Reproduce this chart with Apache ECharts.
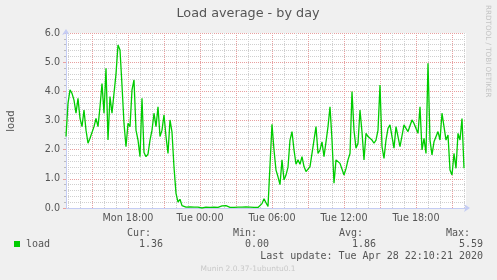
<!DOCTYPE html>
<html><head><meta charset="utf-8">
<script src="https://cdn.jsdelivr.net/npm/echarts@6/dist/echarts.min.js"></script>
<style>html,body{margin:0;padding:0;background:#f0f0f0}#c{width:497px;height:280px}</style>
</head><body><div id="c"></div>
<script>
const titleText = 'Load average - by day';
const seriesName = 'load';
const yAxisName = 'load';
const startHour = 12 + 50 / 60;   // Mon 12:50
const endHour = 46 + 10 / 60;     // Tue 22:10
const stepHours = 10 / 60;
const loadValues = [
  2.45, 3.59, 4.05, 3.93, 3.70, 3.25, 3.76, 3.07, 2.79, 3.36,
  2.67, 2.22, 2.39, 2.45, 2.79, 3.07, 2.79, 3.47, 4.27, 3.25,
  4.79, 2.33, 3.82, 3.25, 3.93, 4.60, 5.59, 5.42, 4.20, 2.90,
  2.10, 2.90, 2.79, 4.05, 4.39, 2.67, 2.33, 1.76, 3.76,
  1.90, 1.76, 1.85, 2.33, 2.67, 3.25, 2.79, 3.47, 2.45, 2.67,
  3.19, 2.45, 1.87, 3.02, 2.60, 1.40, 0.50, 0.20, 0.30, 0.08, 0.12,
  0.03, 0.02, 0.04, 0.02, 0.03, 0.09, 0.03, 0.02, 0.00, 0.02,
  0.03, 0.02, 0.02, 0.04, 0.03, 0.02, 0.02, 0.02, 0.07, 0.05,
  0.08, 0.03, 0.02, 0.03, 0.02, 0.02, 0.03, 0.02, 0.03, 0.06,
  0.04, 0.02, 0.03, 0.02, 0.02, 0.03, 0.02, 0.04, 0.15, 0.32,
  0.18, 0.05, 0.03,
  2.87, 1.99, 1.30, 1.07, 0.80, 1.65, 0.96, 1.13, 1.40, 2.33,
  2.62, 1.99, 1.50, 1.65, 1.50, 1.76, 1.42,
  1.25, 1.30, 1.42, 1.47, 2.33, 2.79, 1.87, 1.99, 2.27, 1.76,
  2.27, 2.79, 3.47, 2.33, 0.85, 1.65, 1.59, 1.53, 1.53, 1.13,
  1.35, 1.65, 1.87, 3.99, 2.67, 2.05, 2.22, 3.36, 2.60, 1.65,
  2.56, 2.45, 2.45, 2.33, 2.22, 2.33, 2.67, 4.22, 2.10, 1.70,
  2.33, 2.73, 2.85, 2.45, 2.05, 2.79, 2.45, 2.10, 2.05, 2.85,
  2.73, 2.62, 2.62, 3.02, 2.90, 2.96, 2.56, 3.47, 1.99, 2.39,
  1.87, 4.96, 2.33, 1.82, 2.27, 2.22, 2.62, 2.33, 3.25, 3.19,
  2.33, 2.50, 1.30, 1.13, 1.87, 1.36, 2.56, 2.33, 3.07, 1.36
];
const xTickHours = [18, 24, 30, 36, 42];
const xTickLabels = ['Mon 18:00', 'Tue 00:00', 'Tue 06:00', 'Tue 12:00', 'Tue 18:00'];
const minorGridHours = [13,14,16,17,19,20,22,23,25,26,28,29,31,32,34,35,37,38,40,41,43,44,46];
const majorGridHours = [15,18,21,24,27,30,33,36,39,42,45];
const yTickLabels = ['0.0', '1.0', '2.0', '3.0', '4.0', '5.0', '6.0'];
const statLabels = ['Cur:', 'Min:', 'Avg:', 'Max:'];
const statValues = ['1.36', '0.00', '1.86', '5.59'];
const lastUpdate = 'Last update: Tue Apr 28 22:10:21 2020';
const footerText = 'Munin 2.0.37-1ubuntu0.1';
const sideText = 'RRDTOOL / TOBI OETIKER';

const lineColor = '#00cc00';
const minorColor = '#cfcfcf';
const majorColor = '#e8a0a0';
const axisColor = '#c4ccf4';
const fontColor = '#555';
const mono = '10px "DejaVu Sans Mono"';

const chart = echarts.init(document.getElementById('c'), null, {renderer: 'canvas'});
const seriesData = loadValues.map((v, i) => [startHour + i * stepHours, v]);

const gridLeft = 66, gridTop = 33, gridW = 400, gridH = 175;
const statRight = [151, 257, 363, 470];
const valRight = [163, 269, 376, 483];

const graphics = [
  {type: 'text', x: 248, y: 14, style: {text: titleText, font: '12.8px "DejaVu Sans"', fill: fontColor, align: 'center', verticalAlign: 'middle'}},
  {type: 'text', x: 11, y: 121, rotation: Math.PI / 2, style: {text: yAxisName, font: '10px "DejaVu Sans"', fill: fontColor, align: 'center', verticalAlign: 'middle'}},
  {type: 'text', x: 488, y: 5, rotation: -Math.PI / 2, style: {text: sideText, font: '7.2px "DejaVu Sans"', fill: '#c4c4c4', align: 'left', verticalAlign: 'middle'}},
  {type: 'rect', shape: {x: 14, y: 241, width: 6, height: 6}, style: {fill: lineColor}},
  {type: 'text', x: 26, y: 244, style: {text: seriesName, font: mono, fill: fontColor, align: 'left', verticalAlign: 'middle'}},
  {type: 'text', x: 483, y: 256, style: {text: lastUpdate, font: mono, fill: fontColor, align: 'right', verticalAlign: 'middle'}},
  {type: 'text', x: 248, y: 269, style: {text: footerText, font: '7.5px "DejaVu Sans"', fill: '#c8c8c8', align: 'center', verticalAlign: 'middle'}}
];
statLabels.forEach((t, i) => graphics.push({type: 'text', x: statRight[i], y: 233, style: {text: t, font: mono, fill: fontColor, align: 'right', verticalAlign: 'middle'}}));
statValues.forEach((t, i) => graphics.push({type: 'text', x: valRight[i], y: 244, style: {text: t, font: mono, fill: fontColor, align: 'right', verticalAlign: 'middle'}}));

const gridLineSeries = (hours, color, z) => ({
  type: 'line', data: [], z: z, silent: true,
  markLine: {
    silent: true, symbol: 'none', animation: false, z: z,
    label: {show: false},
    lineStyle: {color: color, type: [1, 1], width: 1},
    data: hours.map(h => ({xAxis: h}))
  }
});

chart.setOption({
  backgroundColor: '#f0f0f0',
  animation: false,
  graphic: graphics,
  grid: {left: gridLeft, top: gridTop, width: gridW, height: gridH, show: true, backgroundColor: '#ffffff', borderWidth: 0},
  xAxis: {
    type: 'value', min: startHour, max: endHour,
    axisLine: {show: true, lineStyle: {color: axisColor, width: 1}, symbol: ['none', 'arrow'], symbolSize: [6, 6], symbolOffset: [0, 4]},
    axisTick: {show: false},
    splitLine: {show: false},
    axisLabel: {
      customValues: xTickHours,
      formatter: v => { const k = xTickHours.indexOf(Math.round(v)); return k >= 0 ? xTickLabels[k] : ''; },
      color: fontColor, fontFamily: 'DejaVu Sans', fontSize: 9.6, margin: 5
    }
  },
  yAxis: {
    type: 'value', min: 0, max: 6, interval: 1,
    axisLine: {show: true, lineStyle: {color: axisColor, width: 1}, symbol: ['none', 'arrow'], symbolSize: [6, 6], symbolOffset: [0, 4]},
    axisTick: {show: true, length: 3, lineStyle: {color: majorColor}},
    minorTick: {show: true, splitNumber: 5, length: 2, lineStyle: {color: '#bbbbbb'}},
    splitLine: {show: true, lineStyle: {color: majorColor, type: [1, 1], width: 1}},
    minorSplitLine: {show: true, lineStyle: {color: minorColor, type: [1, 1], width: 1}},
    axisLabel: {formatter: (v) => yTickLabels[Math.round(v)], color: fontColor, fontFamily: 'DejaVu Sans', fontSize: 9.6, margin: 6}
  },
  series: [
    gridLineSeries(minorGridHours, minorColor, 1),
    gridLineSeries(majorGridHours, majorColor, 1),
    {
      name: seriesName, type: 'line', data: seriesData, z: 10,
      showSymbol: false, symbol: 'none', smooth: false,
      lineStyle: {color: lineColor, width: 1.3},
      itemStyle: {color: lineColor}
    }
  ]
});
</script>
</body></html>
